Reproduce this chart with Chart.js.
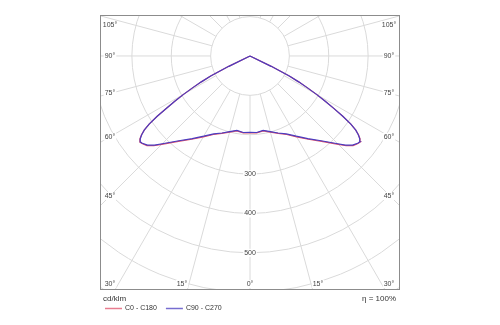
<!DOCTYPE html>
<html>
<head>
<meta charset="utf-8">
<title>Light distribution</title>
<script src="https://cdn.jsdelivr.net/npm/chart.js@4.4.0/dist/chart.umd.min.js"></script>
<style>
html, body { margin: 0; padding: 0; background: #fff; }
#wrap { width: 500px; height: 325px; }
</style>
</head>
<body>
<div id="wrap"><canvas id="polar" width="500" height="325"></canvas></div>
<script>
"use strict";

// gamma angles, degrees from nadir
const gamma = [0, 5, 10, 15, 20, 25, 30, 35, 40, 45, 47, 49, 51, 52, 53, 54, 55, 56, 57, 58, 59, 60, 61, 62, 63, 64, 65, 70, 75, 80, 85, 90];
// luminous intensity, cd/klm
const c0c180 = [195, 196, 193, 200, 209, 220, 237, 258, 283, 317, 334, 347, 353, 355, 350, 341, 328, 309, 281, 250, 222, 195, 167, 140, 112, 60, 0, 0, 0, 0, 0, 0];
const c90c270 = [194, 195, 192, 199, 208, 218, 235, 256, 281, 315, 332, 345, 352, 354, 349, 340, 328, 309, 281, 250, 222, 195, 167, 140, 112, 60, 0, 0, 0, 0, 0, 0];

const seriesNames = ["C0 - C180", "C90 - C270"];
const seriesColors = ["#e0506a", "#4a3cc0"];

const rings = [100, 200, 300, 400, 500, 600, 700];
const ringLabels = [300, 400, 500];
const sideLabels = [30, 45, 60, 75, 90, 105];
const bottomLabels = [0, 15];
const unitText = "cd/klm";
const etaText = "\u03b7 = 100%";

const FONT = "'Liberation Sans', Arial, sans-serif";

// both halves of a C-plane pair: left half from 90° down to nadir, then right half back up
function toPoints(values) {
	let pts = [];
	for (let i = gamma.length - 1; i >= 0; i--) {
		let a = gamma[i] * Math.PI / 180;
		pts.push({ x: -values[i] * Math.sin(a), y: -values[i] * Math.cos(a) });
	}
	for (let i = 1; i < gamma.length; i++) {
		let a = gamma[i] * Math.PI / 180;
		pts.push({ x: values[i] * Math.sin(a), y: -values[i] * Math.cos(a) });
	}
	return pts;
}

function labelBox(ctx, text, x, y, align) {
	let w = ctx.measureText(text).width;
	let left = align == "center" ? x - w / 2 : (align == "right" ? x - w : x);
	ctx.fillStyle = "#fff";
	ctx.fillRect(left - 1, y - 4, w + 2, 8);
	ctx.fillStyle = "#444";
	ctx.textAlign = align;
	ctx.fillText(text, x, y);
}

const polarGrid = {
	id: "polarGrid",
	beforeDatasetsDraw(chart) {
		let ctx = chart.ctx, area = chart.chartArea;
		let sx = chart.scales.x, sy = chart.scales.y;
		let cx = sx.getPixelForValue(0), cy = sy.getPixelForValue(0);
		let k = (sx.getPixelForValue(100) - cx) / 100;

		ctx.save();
		ctx.beginPath();
		ctx.rect(area.left, area.top, area.right - area.left, area.bottom - area.top);
		ctx.clip();

		ctx.strokeStyle = "#dadada";
		ctx.lineWidth = 1;
		rings.forEach(function (v) {
			ctx.beginPath();
			ctx.arc(cx, cy, v * k, 0, Math.PI * 2);
			ctx.stroke();
		});
		// spokes every 15°, starting on the first ring
		for (let a = 0; a < 360; a += 15) {
			let rad = a * Math.PI / 180;
			ctx.beginPath();
			ctx.moveTo(cx + rings[0] * k * Math.sin(rad), cy + rings[0] * k * Math.cos(rad));
			ctx.lineTo(cx + 1000 * k * Math.sin(rad), cy + 1000 * k * Math.cos(rad));
			ctx.stroke();
		}

		ctx.font = "7px " + FONT;
		ctx.textBaseline = "middle";
		ringLabels.forEach(function (v) {
			labelBox(ctx, String(v), cx, cy + v * k, "center");
		});

		// angle labels along the left and right edges
		let inset = 10;
		sideLabels.forEach(function (deg) {
			let rad = deg * Math.PI / 180;
			let y = cy + (cx - (area.left + inset)) / Math.tan(rad);
			y = Math.min(Math.max(y, area.top + 10), area.bottom - 6);
			labelBox(ctx, deg + "\u00b0", area.left + inset, y, "center");
			labelBox(ctx, deg + "\u00b0", area.right - inset - 1, y, "center");
		});
		let by = area.bottom - 6;
		bottomLabels.forEach(function (deg) {
			if (deg == 0) {
				labelBox(ctx, "0\u00b0", cx, by, "center");
				return;
			}
			let dx = (area.bottom - cy) * Math.tan(deg * Math.PI / 180);
			labelBox(ctx, deg + "\u00b0", cx - dx, by, "right");
			labelBox(ctx, deg + "\u00b0", cx + dx, by, "left");
		});
		ctx.restore();
	},
	afterDraw(chart) {
		let ctx = chart.ctx, area = chart.chartArea;
		ctx.save();
		ctx.strokeStyle = "#8c8c8c";
		ctx.lineWidth = 1;
		ctx.strokeRect(area.left + 0.5, area.top + 0.5, area.right - area.left - 1, area.bottom - area.top - 1);

		ctx.fillStyle = "#333";
		ctx.textBaseline = "middle";
		ctx.font = "8px " + FONT;
		ctx.textAlign = "left";
		ctx.fillText(unitText, area.left + 3, 299);
		ctx.textAlign = "right";
		ctx.fillText(etaText, area.right - 4, 299);

		// legend row
		ctx.font = "7px " + FONT;
		ctx.textAlign = "left";
		let x = area.left + 5, y = 308.5;
		for (let i = 0; i < seriesNames.length; i++) {
			ctx.strokeStyle = seriesColors[i];
			ctx.globalAlpha = 0.75;
			ctx.lineWidth = 1.5;
			ctx.beginPath();
			ctx.moveTo(x, y);
			ctx.lineTo(x + 17, y);
			ctx.stroke();
			ctx.globalAlpha = 1;
			ctx.fillStyle = "#333";
			ctx.fillText(seriesNames[i], x + 20, y);
			x += 20 + ctx.measureText(seriesNames[i]).width + 9;
		}
		ctx.restore();
	}
};

let myChart = new Chart(document.getElementById("polar"), {
	type: "scatter",
	data: {
		datasets: [
			{ label: seriesNames[0], data: toPoints(c0c180), borderColor: seriesColors[0], order: 2 },
			{ label: seriesNames[1], data: toPoints(c90c270), borderColor: seriesColors[1], order: 1 }
		]
	},
	options: {
		responsive: false,
		devicePixelRatio: 1,
		animation: false,
		layout: { padding: { left: 100, right: 100, top: 15, bottom: 35 } },
		elements: {
			point: { radius: 0, hoverRadius: 0 },
			line: { borderWidth: 1.2, tension: 0, fill: false }
		},
		datasets: { scatter: { showLine: true } },
		scales: {
			x: { type: "linear", min: -381, max: 381, display: false },
			y: { type: "linear", min: -594, max: 104, display: false }
		},
		plugins: {
			legend: { display: false },
			tooltip: { enabled: false }
		}
	},
	plugins: [polarGrid]
});
</script>
</body>
</html>
